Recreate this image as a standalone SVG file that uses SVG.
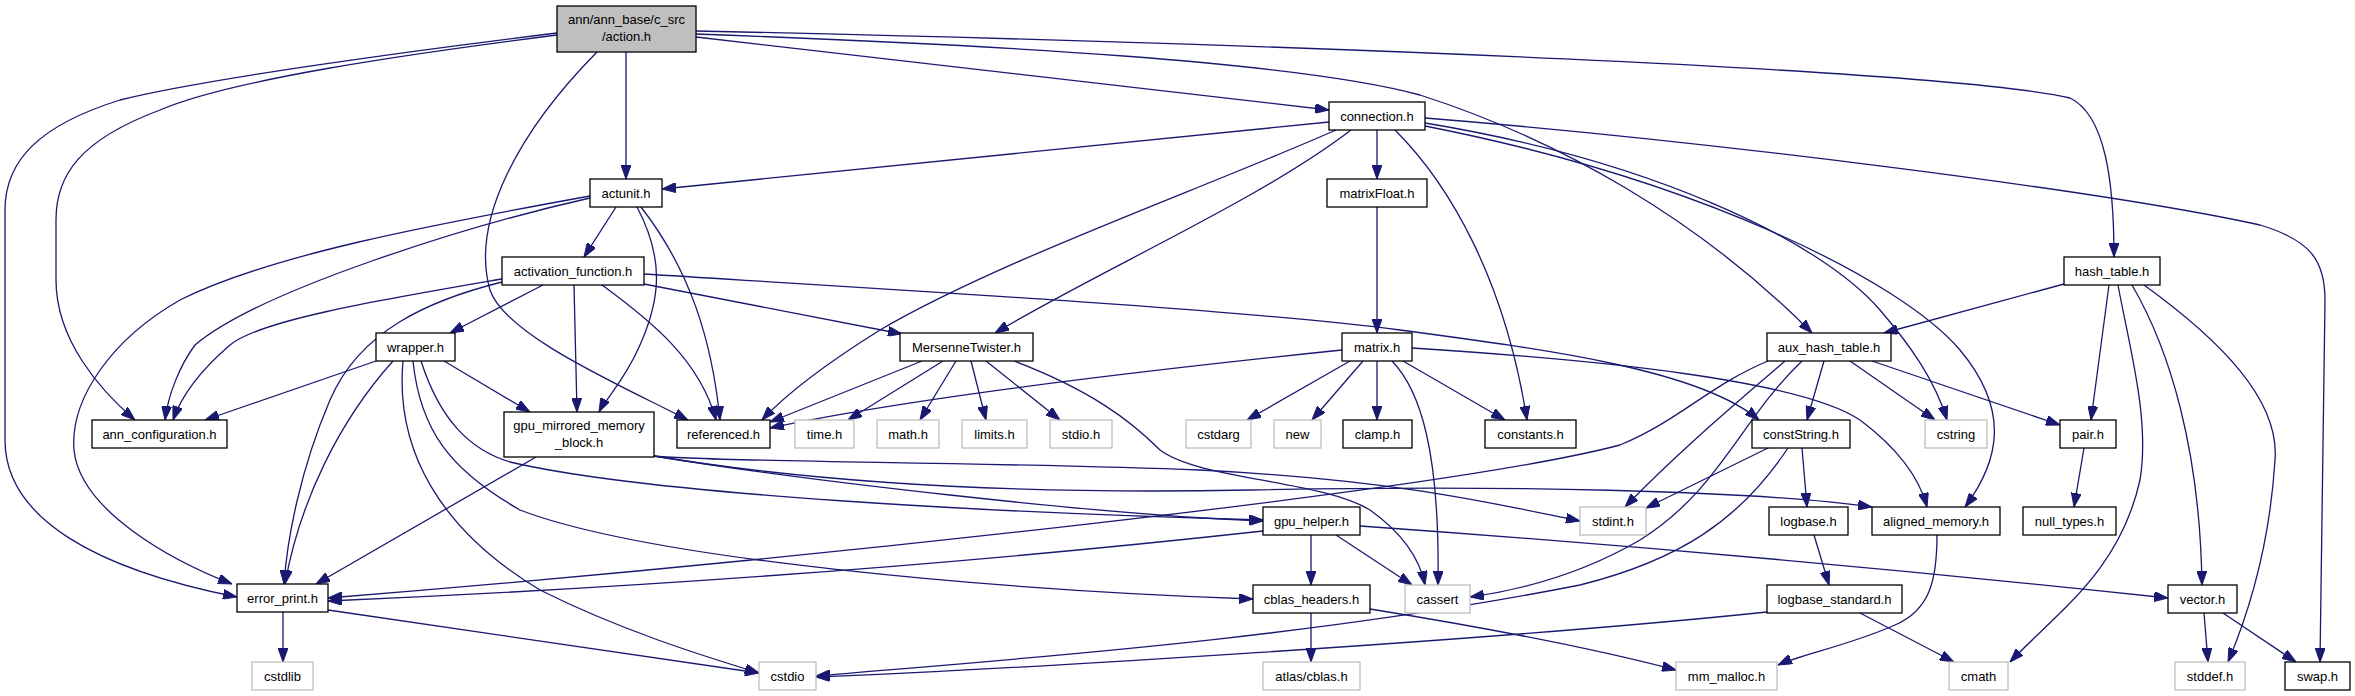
<svg xmlns="http://www.w3.org/2000/svg" width="2355" height="696" viewBox="0 0 2355 696">
<style>
.n rect{fill:#fff;stroke:#000;stroke-width:1.3}
.g rect{fill:#fff;stroke:#bfbfbf;stroke-width:1.3}
.r rect{fill:#bfbfbf;stroke:#000;stroke-width:1.3}
text{font-family:"Liberation Sans",Arial,sans-serif;font-size:13px;fill:#000;text-anchor:middle}
#edges path{fill:none;stroke:#191970;stroke-width:1.3;marker-end:url(#ah)}
</style>
<defs>
<marker id="ah" markerUnits="userSpaceOnUse" viewBox="0 0 14 10" markerWidth="14" markerHeight="10" refX="14" refY="5" orient="auto">
<path d="M0,0 L14,5 L0,10 z" fill="#191970" stroke="#191970" stroke-width="1"/>
</marker>
</defs>
<rect width="2355" height="696" fill="#fff"/>
<g id="edges">
<path d="M626,52 L626,179"/>
<path d="M696,37 L1329,110"/>
<path d="M696,31 C1300,44 1950,70 2070,98 C2105,115 2114,180 2114,257"/>
<path d="M696,34 C1000,45 1300,62 1420,95 C1560,140 1700,220 1812,333"/>
<path d="M597,52 C520,130 470,220 490,290 C505,335 620,385 688,420"/>
<path d="M557,35 C400,55 230,80 160,110 C80,140 56,175 56,220 L56,280 C56,340 100,390 135,420"/>
<path d="M557,33 C400,52 200,80 120,100 C40,125 5,160 5,210 L5,440 C5,520 100,570 237,597"/>
<path d="M1329,122 L662,189"/>
<path d="M1377,130 L1377,179"/>
<path d="M1351,130 C1260,200 1100,270 995,333"/>
<path d="M1336,130 C1200,190 1000,260 880,330 C840,355 790,390 762,420"/>
<path d="M1395,130 C1450,185 1505,280 1527,420"/>
<path d="M1425,118 C1700,140 2100,190 2260,225 C2310,240 2325,260 2325,300 L2320,662"/>
<path d="M1425,123 C1650,160 1820,240 1880,310 C1910,345 1935,380 1947,420"/>
<path d="M1425,126 C1700,180 1900,280 1960,350 C2010,410 2000,460 1965,507"/>
<path d="M616,207 L584,257"/>
<path d="M590,198 C470,225 260,290 195,345 C180,365 168,395 165,420"/>
<path d="M590,196 C430,225 270,255 180,300 C110,340 70,400 74,450 C80,510 170,560 232,584"/>
<path d="M641,207 C690,270 712,340 720,420"/>
<path d="M637,207 C665,260 660,300 640,345 C625,380 605,400 599,412"/>
<path d="M543,285 L450,333"/>
<path d="M502,279 C380,300 260,320 230,345 C195,375 180,400 173,420"/>
<path d="M502,282 C430,300 360,330 330,400 C300,470 287,540 284,584"/>
<path d="M574,285 L577,412"/>
<path d="M602,285 C650,320 700,360 716,420"/>
<path d="M644,284 L902,334"/>
<path d="M644,274 C900,290 1250,310 1400,330 C1550,350 1700,370 1759,420"/>
<path d="M376,361 L205,420"/>
<path d="M393,361 C340,420 300,500 285,584"/>
<path d="M444,361 L530,412"/>
<path d="M403,361 C395,450 440,530 540,590 C620,630 700,655 759,673"/>
<path d="M421,361 C440,420 470,450 510,462 C650,495 1000,513 1263,520"/>
<path d="M413,361 C420,430 450,470 520,510 C650,560 1000,590 1253,599"/>
<path d="M536,457 L316,584"/>
<path d="M654,456 C800,480 1100,515 1263,521"/>
<path d="M654,456 C700,462 1000,462 1200,470 C1400,480 1500,505 1580,521"/>
<path d="M654,456 C800,480 1000,495 1250,490 C1500,485 1750,490 1872,507"/>
<path d="M922,361 L770,422"/>
<path d="M943,361 L848,420"/>
<path d="M956,361 L920,420"/>
<path d="M971,361 L986,420"/>
<path d="M986,361 L1060,420"/>
<path d="M1014,361 C1090,390 1130,420 1160,450 C1200,480 1320,480 1370,510 C1405,535 1420,560 1425,585"/>
<path d="M1342,350 C1100,375 900,400 770,428"/>
<path d="M1350,361 L1247,420"/>
<path d="M1363,361 L1312,420"/>
<path d="M1377,361 L1377,420"/>
<path d="M1392,361 C1420,390 1440,450 1438,585"/>
<path d="M1403,361 L1505,420"/>
<path d="M1412,348 C1600,360 1800,380 1860,420 C1900,450 1920,480 1927,507"/>
<path d="M1377,207 L1377,333"/>
<path d="M2064,284 L1884,333"/>
<path d="M2109,285 L2091,420"/>
<path d="M2118,285 C2130,350 2150,420 2140,480 C2120,570 2060,610 2010,662"/>
<path d="M2132,285 C2170,350 2200,450 2202,585"/>
<path d="M2144,285 C2220,340 2280,400 2275,460 C2270,540 2250,610 2228,662"/>
<path d="M1824,361 L1807,420"/>
<path d="M1850,361 L1935,420"/>
<path d="M1872,361 L2060,425"/>
<path d="M1785,361 C1740,400 1680,450 1625,507"/>
<path d="M1802,361 C1740,420 1720,490 1640,540 C1580,575 1520,590 1470,597"/>
<path d="M1768,361 C1710,385 1680,420 1620,445 C1450,490 800,560 328,598"/>
<path d="M1768,448 L1646,508"/>
<path d="M1802,448 L1807,507"/>
<path d="M1788,448 C1740,520 1680,560 1580,585 C1300,640 1000,660 816,676"/>
<path d="M1814,535 L1829,585"/>
<path d="M1767,612 C1500,640 1000,670 816,677"/>
<path d="M1860,613 L1954,662"/>
<path d="M1937,535 C1937,580 1930,610 1895,625 C1850,645 1800,655 1778,665"/>
<path d="M2084,448 L2074,507"/>
<path d="M2204,613 L2208,662"/>
<path d="M2223,613 L2296,662"/>
<path d="M1263,531 C1000,560 700,585 328,601"/>
<path d="M1311,535 L1311,585"/>
<path d="M1336,535 L1412,585"/>
<path d="M1360,526 C1700,550 2000,580 2168,598"/>
<path d="M1311,613 L1311,662"/>
<path d="M1370,609 C1500,630 1600,650 1676,670"/>
<path d="M283,612 L283,662"/>
<path d="M328,610 L759,673"/>
</g>
<g id="action" class="r"><rect x="557" y="6" width="139" height="46"/><text x="626.5" y="24">ann/ann_base/c_src</text><text x="626.5" y="41">/action.h</text></g>
<g id="connection" class="n"><rect x="1329" y="102" width="96" height="28"/><text x="1377" y="120.5">connection.h</text></g>
<g id="actunit" class="n"><rect x="590" y="179" width="72" height="28"/><text x="626" y="197.5">actunit.h</text></g>
<g id="matrixFloat" class="n"><rect x="1327" y="179" width="100" height="28"/><text x="1377" y="197.5">matrixFloat.h</text></g>
<g id="activation_function" class="n"><rect x="502" y="257" width="142" height="28"/><text x="573" y="275.5">activation_function.h</text></g>
<g id="hash_table" class="n"><rect x="2064" y="257" width="96" height="28"/><text x="2112" y="275.5">hash_table.h</text></g>
<g id="wrapper" class="n"><rect x="376" y="333" width="79" height="28"/><text x="415.5" y="351.5">wrapper.h</text></g>
<g id="MersenneTwister" class="n"><rect x="900" y="333" width="133" height="28"/><text x="966.5" y="351.5">MersenneTwister.h</text></g>
<g id="matrix" class="n"><rect x="1342" y="333" width="70" height="28"/><text x="1377" y="351.5">matrix.h</text></g>
<g id="aux_hash_table" class="n"><rect x="1767" y="333" width="124" height="28"/><text x="1829" y="351.5">aux_hash_table.h</text></g>
<g id="ann_configuration" class="n"><rect x="92" y="420" width="135" height="28"/><text x="159.5" y="438.5">ann_configuration.h</text></g>
<g id="gpu_mirrored_memory_block" class="n"><rect x="504" y="412" width="150" height="45"/><text x="579" y="430">gpu_mirrored_memory</text><text x="579" y="447">_block.h</text></g>
<g id="referenced" class="n"><rect x="677" y="420" width="93" height="28"/><text x="723.5" y="438.5">referenced.h</text></g>
<g id="time" class="g"><rect x="795" y="420" width="59" height="28"/><text x="824.5" y="438.5">time.h</text></g>
<g id="math" class="g"><rect x="877" y="420" width="62" height="28"/><text x="908" y="438.5">math.h</text></g>
<g id="limits" class="g"><rect x="962" y="420" width="65" height="28"/><text x="994.5" y="438.5">limits.h</text></g>
<g id="stdio" class="g"><rect x="1050" y="420" width="62" height="28"/><text x="1081" y="438.5">stdio.h</text></g>
<g id="cstdarg" class="g"><rect x="1186" y="420" width="65" height="28"/><text x="1218.5" y="438.5">cstdarg</text></g>
<g id="new" class="g"><rect x="1274" y="420" width="47" height="28"/><text x="1297.5" y="438.5">new</text></g>
<g id="clamp" class="n"><rect x="1343" y="420" width="69" height="28"/><text x="1377.5" y="438.5">clamp.h</text></g>
<g id="constants" class="n"><rect x="1485" y="420" width="91" height="28"/><text x="1530.5" y="438.5">constants.h</text></g>
<g id="constString" class="n"><rect x="1752" y="420" width="98" height="28"/><text x="1801" y="438.5">constString.h</text></g>
<g id="cstring" class="g"><rect x="1925" y="420" width="62" height="28"/><text x="1956" y="438.5">cstring</text></g>
<g id="pair" class="n"><rect x="2060" y="420" width="56" height="28"/><text x="2088" y="438.5">pair.h</text></g>
<g id="gpu_helper" class="n"><rect x="1263" y="507" width="97" height="28"/><text x="1311.5" y="525.5">gpu_helper.h</text></g>
<g id="stdint" class="g"><rect x="1580" y="507" width="66" height="28"/><text x="1613" y="525.5">stdint.h</text></g>
<g id="logbase" class="n"><rect x="1769" y="507" width="79" height="28"/><text x="1808.5" y="525.5">logbase.h</text></g>
<g id="aligned_memory" class="n"><rect x="1872" y="507" width="128" height="28"/><text x="1936" y="525.5">aligned_memory.h</text></g>
<g id="null_types" class="n"><rect x="2023" y="507" width="93" height="28"/><text x="2069.5" y="525.5">null_types.h</text></g>
<g id="error_print" class="n"><rect x="237" y="584" width="91" height="28"/><text x="282.5" y="602.5">error_print.h</text></g>
<g id="cblas_headers" class="n"><rect x="1253" y="585" width="117" height="28"/><text x="1311.5" y="603.5">cblas_headers.h</text></g>
<g id="cassert" class="g"><rect x="1405" y="585" width="65" height="28"/><text x="1437.5" y="603.5">cassert</text></g>
<g id="logbase_standard" class="n"><rect x="1767" y="585" width="135" height="28"/><text x="1834.5" y="603.5">logbase_standard.h</text></g>
<g id="vector" class="n"><rect x="2168" y="585" width="69" height="28"/><text x="2202.5" y="603.5">vector.h</text></g>
<g id="cstdlib" class="g"><rect x="252" y="662" width="61" height="28"/><text x="282.5" y="680.5">cstdlib</text></g>
<g id="cstdio" class="g"><rect x="759" y="662" width="57" height="28"/><text x="787.5" y="680.5">cstdio</text></g>
<g id="atlas_cblas" class="g"><rect x="1263" y="662" width="97" height="28"/><text x="1311.5" y="680.5">atlas/cblas.h</text></g>
<g id="mm_malloc" class="g"><rect x="1676" y="662" width="101" height="28"/><text x="1726.5" y="680.5">mm_malloc.h</text></g>
<g id="cmath" class="g"><rect x="1949" y="662" width="59" height="28"/><text x="1978.5" y="680.5">cmath</text></g>
<g id="stddef" class="g"><rect x="2175" y="662" width="70" height="28"/><text x="2210" y="680.5">stddef.h</text></g>
<g id="swap" class="n"><rect x="2285" y="662" width="65" height="28"/><text x="2317.5" y="680.5">swap.h</text></g>
</svg>
